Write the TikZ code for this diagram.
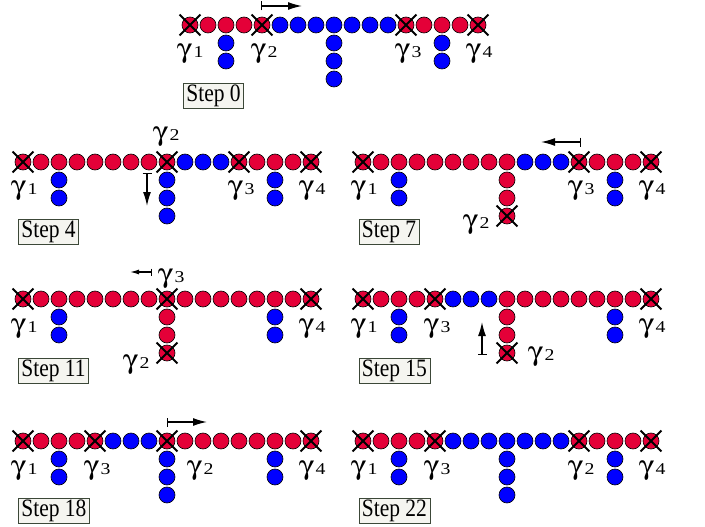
\documentclass[tikz,border=0pt]{standalone}
\usepackage{graphicx}
\usepackage[Symbol]{upgreek}
\usepackage{fontspec}
\setmainfont{Liberation Serif}
\newfontfamily\stepfont[FakeStretch=0.86]{Liberation Serif}
\newfontfamily\digitfont[FakeStretch=1.2]{Liberation Serif}
\usetikzlibrary{arrows.meta,shapes.misc}
\definecolor{cred}{RGB}{228,0,56}
\definecolor{cblue}{RGB}{0,0,255}
\definecolor{boxfill}{RGB}{245,245,240}
\definecolor{boxline}{RGB}{60,72,56}
\newcommand\gl[1]{\scalebox{1.15}[1]{\fontsize{27}{27}\selectfont$\upgamma$}\hspace{1.5pt}{\digitfont\fontsize{16.5}{16.5}\selectfont #1}}
\tikzset{
 bead/.style={circle,draw=black,line width=0.6pt,minimum size=16pt,inner sep=0pt},
 rc/.style={bead,fill=cred},
 bc/.style={bead,fill=cblue},
 xc/.style={rc},
 rcx/.style={inner sep=0pt,minimum size=0pt},
 bcx/.style={inner sep=0pt,minimum size=0pt},
 xcx/.style={cross out,draw=black,line width=1.8pt,minimum size=19pt,inner sep=0pt},
 glabel/.style={anchor=base west,inner sep=0pt},
 stepbox/.style={draw=boxline,fill=boxfill,line width=0.8pt,anchor=north west,inner xsep=3pt,inner ysep=1pt,minimum height=25pt,font=\stepfont\fontsize{25}{25}\selectfont},
 movearrow/.style={line width=1.4pt,{Bar[width=9pt]}-{Latex[length=14pt,width=8pt]}},
 smallarrow/.style={line width=1.2pt,{Bar[width=7pt]}-{Latex[length=9pt,width=5pt]}},
}
\newcommand\toprow[4]{%
 \foreach \t [count=\i from 0] in {#4}{%
  \node[\t] (#1-\i) at ({#2+18*\i},{#3}) {};
  \node[\t x] (#1-\i-o) at (#1-\i) {};
 }}
\newcommand\branchcol[5]{%
 \foreach \t [count=\j] in {#5}{%
  \node[\t] (#1-v#2-\j) at ({#3+18*#2},{#4+18*\j}) {};
  \node[\t x] (#1-v#2-\j-o) at (#1-v#2-\j) {};
 }}
\begin{document}
\begin{tikzpicture}[x=1pt,y=-1pt]
\useasboundingbox (0,0) rectangle (705,527);
% ---------- Step 0
\toprow{a}{190}{25}{xc,rc,rc,rc,xc,bc,bc,bc,bc,bc,bc,bc,xc,rc,rc,rc,xc}
\branchcol{a}{2}{190}{25}{bc,bc}
\branchcol{a}{8}{190}{25}{bc,bc,bc}
\branchcol{a}{14}{190}{25}{bc,bc}
\node[glabel] (a-g1) at (177,58) {\gl{1}};
\node[glabel] (a-g2) at (251,58) {\gl{2}};
\node[glabel] (a-g3) at (395,58) {\gl{3}};
\node[glabel] (a-g4) at (466,58) {\gl{4}};
\coordinate (a-s) at (261,6); \coordinate (a-e) at (302,6);
\draw[movearrow] (a-s) -- (a-e);
\node[stepbox] (a-box) at (183,83) {Step 0};
% ---------- Step 4
\toprow{b}{23}{162}{xc,rc,rc,rc,rc,rc,rc,rc,xc,bc,bc,bc,xc,rc,rc,rc,xc}
\branchcol{b}{2}{23}{162}{bc,bc}
\branchcol{b}{8}{23}{162}{bc,bc,bc}
\branchcol{b}{14}{23}{162}{bc,bc}
\node[glabel] (b-g1) at (11,194) {\gl{1}};
\node[glabel] (b-g2) at (153,141) {\gl{2}};
\node[glabel] (b-g3) at (228,194) {\gl{3}};
\node[glabel] (b-g4) at (299,194) {\gl{4}};
\coordinate (b-s) at (147,173); \coordinate (b-e) at (147,206);
\draw[movearrow] (b-s) -- (b-e);
\node[stepbox] (b-box) at (18,218.5) {Step 4};
% ---------- Step 7
\toprow{c}{363}{162}{xc,rc,rc,rc,rc,rc,rc,rc,rc,bc,bc,bc,xc,rc,rc,rc,xc}
\branchcol{c}{2}{363}{162}{bc,bc}
\branchcol{c}{8}{363}{162}{rc,rc,xc}
\branchcol{c}{14}{363}{162}{bc,bc}
\node[glabel] (c-g1) at (351,194) {\gl{1}};
\node[glabel] (c-g2) at (463,228) {\gl{2}};
\node[glabel] (c-g3) at (568,194) {\gl{3}};
\node[glabel] (c-g4) at (639,194) {\gl{4}};
\coordinate (c-s) at (581,142); \coordinate (c-e) at (541,142);
\draw[movearrow] (c-s) -- (c-e);
\node[stepbox] (c-box) at (358.5,218.5) {Step 7};
% ---------- Step 11
\toprow{d}{23}{299}{xc,rc,rc,rc,rc,rc,rc,rc,xc,rc,rc,rc,rc,rc,rc,rc,xc}
\branchcol{d}{2}{23}{299}{bc,bc}
\branchcol{d}{8}{23}{299}{rc,rc,xc}
\branchcol{d}{14}{23}{299}{bc,bc}
\node[glabel] (d-g1) at (11,332) {\gl{1}};
\node[glabel] (d-g2) at (123,368) {\gl{2}};
\node[glabel] (d-g3) at (158,282) {\gl{3}};
\node[glabel] (d-g4) at (299,332) {\gl{4}};
\coordinate (d-s) at (152,272); \coordinate (d-e) at (130,272);
\draw[smallarrow] (d-s) -- (d-e);
\node[stepbox] (d-box) at (18,358) {Step 11};
% ---------- Step 15
\toprow{e}{363}{299}{xc,rc,rc,rc,xc,bc,bc,bc,rc,rc,rc,rc,rc,rc,rc,rc,xc}
\branchcol{e}{2}{363}{299}{bc,bc}
\branchcol{e}{8}{363}{299}{rc,rc,xc}
\branchcol{e}{14}{363}{299}{bc,bc}
\node[glabel] (e-g1) at (351,332) {\gl{1}};
\node[glabel] (e-g2) at (528,360) {\gl{2}};
\node[glabel] (e-g3) at (424,332) {\gl{3}};
\node[glabel] (e-g4) at (639,332) {\gl{4}};
\coordinate (e-s) at (482,355); \coordinate (e-e) at (482,322);
\draw[movearrow] (e-s) -- (e-e);
\node[stepbox] (e-box) at (358.5,358) {Step 15};
% ---------- Step 18
\toprow{f}{23}{441}{xc,rc,rc,rc,xc,bc,bc,bc,xc,rc,rc,rc,rc,rc,rc,rc,xc}
\branchcol{f}{2}{23}{441}{bc,bc}
\branchcol{f}{8}{23}{441}{bc,bc,bc}
\branchcol{f}{14}{23}{441}{bc,bc}
\node[glabel] (f-g1) at (11,474) {\gl{1}};
\node[glabel] (f-g2) at (187,474) {\gl{2}};
\node[glabel] (f-g3) at (84,474) {\gl{3}};
\node[glabel] (f-g4) at (299,474) {\gl{4}};
\coordinate (f-s) at (167,422); \coordinate (f-e) at (207,422);
\draw[movearrow] (f-s) -- (f-e);
\node[stepbox] (f-box) at (18,497.5) {Step 18};
% ---------- Step 22
\toprow{g}{363}{441}{xc,rc,rc,rc,xc,bc,bc,bc,bc,bc,bc,bc,xc,rc,rc,rc,xc}
\branchcol{g}{2}{363}{441}{bc,bc}
\branchcol{g}{8}{363}{441}{bc,bc,bc}
\branchcol{g}{14}{363}{441}{bc,bc}
\node[glabel] (g-g1) at (351,474) {\gl{1}};
\node[glabel] (g-g2) at (568,474) {\gl{2}};
\node[glabel] (g-g3) at (424,474) {\gl{3}};
\node[glabel] (g-g4) at (639,474) {\gl{4}};
\node[stepbox] (g-box) at (358.5,497.5) {Step 22};
\end{tikzpicture}
\end{document}
